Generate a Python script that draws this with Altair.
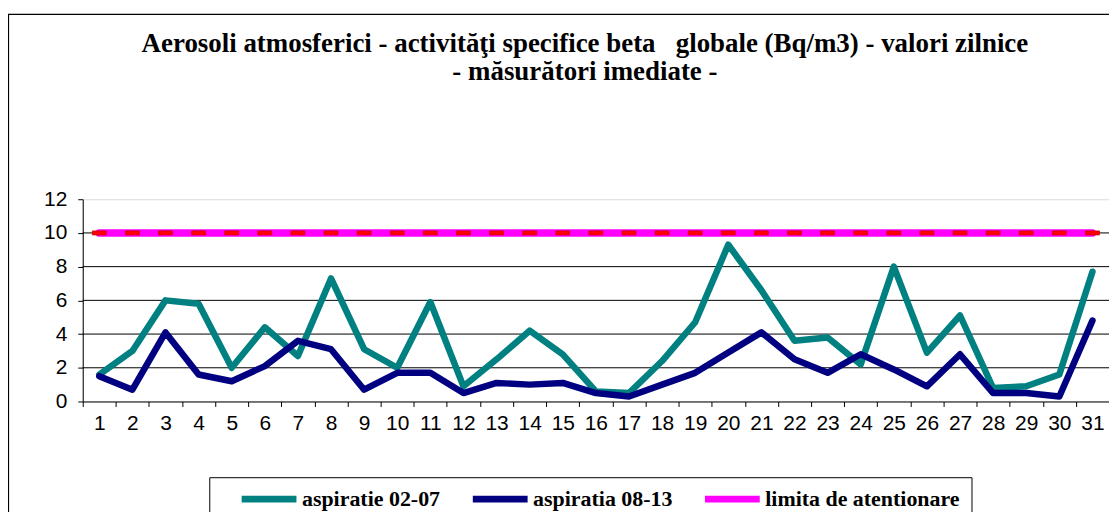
import altair as alt
import pandas as pd

# ---- data ----
DAYS = [str(d) for d in range(1, 32)]
ASP_02_07 = [1.6, 3.0, 6.0, 5.8, 2.0, 4.4, 2.7, 7.3, 3.1, 2.0,
             5.9, 0.9, 2.5, 4.2, 2.8, 0.6, 0.5, 2.4, 4.7, 9.3,
             6.6, 3.6, 3.8, 2.2, 8.0, 2.9, 5.1, 0.8, 0.9, 1.6, 7.7]
ASP_08_13 = [1.5, 0.7, 4.1, 1.6, 1.2, 2.1, 3.6, 3.1, 0.7, 1.7,
             1.7, 0.5, 1.1, 1.0, 1.1, 0.5, 0.3, 1.0, 1.7, 2.9,
             4.1, 2.5, 1.7, 2.8, 1.9, 0.9, 2.8, 0.5, 0.5, 0.3, 4.8]
LIMITA = [10, 10, 10, 10, 10, 10, 10, 10, 10, 10,
          10, 10, 10, 10, 10, 10, 10, 10, 10, 10,
          10, 10, 10, 10, 10, 10, 10, 10, 10, 10, 10]
SERIES = ["aspiratie 02-07", "aspiratia 08-13", "limita de atentionare"]
COLORS = ["#008080", "#000080", "#FF00FF"]
Y_TICKS = [0, 2, 4, 6, 8, 10, 12]
GRID = [2, 4, 6, 8, 10]
TITLE = ["Aerosoli atmosferici - activităţi specifice beta\u00a0\u00a0 globale (Bq/m3) - valori zilnice",
         "- măsurători imediate -"]

rows = []
for i, d in enumerate(DAYS):
    rows.append({"zi": d, "serie": SERIES[0], "val": ASP_02_07[i]})
    rows.append({"zi": d, "serie": SERIES[1], "val": ASP_08_13[i]})
    rows.append({"zi": d, "serie": SERIES[2], "val": LIMITA[i]})
df = pd.DataFrame(rows)
grid_df = pd.DataFrame({"val": GRID})

yscale = alt.Scale(domain=[0, 12], nice=False)
yaxis = alt.Axis(title=None, values=Y_TICKS, grid=False, labelFont="Liberation Sans",
                 labelFontSize=21, labelColor="black", tickSize=5, tickColor="black",
                 domainColor="black", labelPadding=11)
xaxis = alt.Axis(title=None, labelAngle=0, tickBand="extent", labelFont="Liberation Sans",
                 labelFontSize=21, labelColor="black", tickSize=5, tickColor="black",
                 domainColor="black", labelPadding=6)
X = alt.X("zi:O", sort=DAYS, scale=alt.Scale(paddingInner=0, paddingOuter=0), axis=xaxis)
Y = alt.Y("val:Q", scale=yscale, axis=yaxis)

legend = alt.Legend(
    title=None, orient="none", legendX=127, legendY=279, direction="horizontal",
    symbolType="M1.5,0H9.357", symbolSize=196, symbolStrokeWidth=7,
    labelFont="Liberation Serif", labelFontSize=22, labelFontWeight="bold",
    labelColor="black", labelOffset=60, columnPadding=11, padding=11,
    strokeColor="black", fillColor="white", labelLimit=0,
)
color = alt.Color("serie:N", scale=alt.Scale(domain=SERIES, range=COLORS), legend=legend)

frame = alt.Chart(pd.DataFrame({"a": [0]})).mark_rect(
    fill=None, stroke="black", strokeWidth=1.2
).encode(x=alt.value(-74.5), x2=alt.value(1200), y=alt.value(-185.5), y2=alt.value(500))

grid = alt.Chart(grid_df).mark_rule(color="black", strokeWidth=1).encode(
    y=alt.Y("val:Q", scale=yscale, axis=yaxis))

base = alt.Chart(df)
series = base.transform_filter(
    alt.FieldOneOfPredicate(field="serie", oneOf=SERIES[:2])
).transform_calculate(zi_n="toNumber(datum.zi)").mark_line(
    strokeWidth=6.5, strokeJoin="round", strokeCap="round"
).encode(x=X, y=Y, color=color, order=alt.Order("zi_n:Q"))

limit = base.transform_filter(
    alt.FieldEqualPredicate(field="serie", equal=SERIES[2])
).mark_line(strokeWidth=7.5, strokeCap="round").encode(x=X, y=Y, color=color)

marks = base.transform_filter(
    alt.FieldEqualPredicate(field="serie", equal=SERIES[2])
).mark_tick(color="#FF0000", stroke="#D00000", strokeWidth=0.8, size=14, thickness=4,
            opacity=1).encode(x=X, y=Y)

chart = alt.layer(frame, grid, series, limit, marks).properties(
    width=1030, height=203,
    title=alt.TitleParams(TITLE, font="Liberation Serif", fontSize=27, fontWeight="bold",
                          color="black", anchor="middle", lineHeight=28, offset=0, dy=72, dx=-11),
    padding={"left": 75, "top": 191, "right": 0, "bottom": 110},
    autosize=alt.AutoSizeParams(type="none"),
).configure_view(stroke=None).configure(background="white")

chart.save("out.html", embed_options={"renderer": "svg", "actions": False})
